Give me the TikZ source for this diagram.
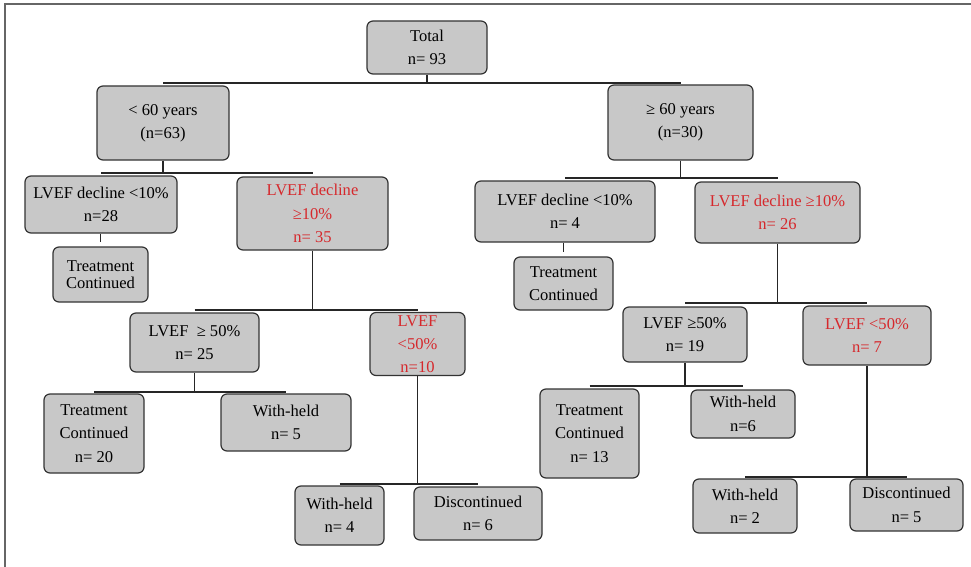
\documentclass[tikz,border=0pt]{standalone}
\usepackage{fontspec}
\setmainfont{Liberation Serif}
\definecolor{boxgray}{RGB}{200,200,200}
\definecolor{declred}{RGB}{214,40,44}

\begin{document}
\begin{tikzpicture}[x=0.75pt, y=-0.75pt,
		box/.style={draw=black!80, line width=0.9pt, rounded corners=4.5pt, fill=boxgray,
			align=center, inner sep=2pt, font=\fontsize{12.4}{17.5}\selectfont},
		dims/.style 2 args={minimum width=#1*0.75pt, minimum height=#2*0.75pt},
		redtext/.style={text=declred},
		link/.style={draw=black!85, line width=0.8pt}]
		\useasboundingbox (0,0) rectangle (971,567);
		
		% Page frame (top and left edges)
		\draw[black!60, line width=1.2pt] (5,567) -- (5,4) -- (971,4);
		
		% Root and age groups
		\node[box, dims={120}{53}] (total) at (427,47.5) {Total\\n= 93};
		\node[box, dims={132}{74}] (young) at (163,123) {< 60 years\\(n=63)};
		\node[box, dims={145}{75}] (old) at (680.5,122.5) {≥ 60 years\\(n=30)};
		
		% Under 60: LVEF decline
		\node[box, dims={152}{57}] (ylow) at (101,204.5) {LVEF decline <10\%\\n=28};
		\node[box, redtext, dims={151}{73}] (yhigh) at (312.5,213.5) {LVEF decline\\≥10\%\\n= 35};
		\node[box, dims={95}{55}, font=\fontsize{12.4}{13}\selectfont] (ytc) at (100.5,274.5) {Treatment\\Continued};
		\node[box, dims={129}{59}] (yge) at (194.5,342.5) {LVEF \ ≥ 50\%\\n= 25};
		\node[box, redtext, dims={95}{60}] (ylt) at (417.5,344) {LVEF\\<50\%\\n=10};
		\node[box, dims={100}{79}] (ygetc) at (94,433.5) {Treatment\\Continued\\n= 20};
		\node[box, dims={130}{57}] (ygewh) at (286,422.5) {With-held\\n= 5};
		\node[box, dims={89}{59}] (yltwh) at (339.5,515.5) {With-held\\n= 4};
		\node[box, dims={128}{53}] (yltdc) at (478,513.5) {Discontinued\\n= 6};
		
		% 60 and over: LVEF decline
		\node[box, dims={180}{61}] (olow) at (565,211.5) {LVEF decline <10\%\\n= 4};
		\node[box, redtext, dims={165}{61}] (ohigh) at (777.5,212.5) {LVEF decline ≥10\%\\n= 26};
		\node[box, dims={99}{53}] (otc) at (563.5,283.5) {Treatment\\Continued};
		\node[box, dims={124}{55}] (oge) at (685,334.5) {LVEF ≥50\%\\n= 19};
		\node[box, redtext, dims={128}{59}] (olt) at (867,335.5) {LVEF <50\%\\n= 7};
		\node[box, dims={99}{89}] (ogetc) at (589.5,433.5) {Treatment\\Continued\\n= 13};
		\node[box, dims={104}{48}] (ogewh) at (743,414) {With-held\\n=6};
		\node[box, dims={104}{54}] (oltwh) at (745,506) {With-held\\n= 2};
		\node[box, dims={113}{52}] (oltdc) at (906.5,505) {Discontinued\\n= 5};
		
		% Heights of the branch bars
		\coordinate (b0) at (0,83);
		\coordinate (b1) at (0,173);
		\coordinate (b2) at (0,310);
		\coordinate (b3) at (0,392);
		\coordinate (b4) at (0,484);
		\coordinate (c1) at (0,178);
		\coordinate (c2) at (0,303);
		\coordinate (c3) at (0,386);
		\coordinate (c4) at (0,477);
		
		% Branches
		\draw[link] (total.south) -- (total.south |- b0);
		\draw[link] (young.north |- b0) -- (old.north |- b0);
		\draw[link] (young.south) -- (young.south |- b1);
		\draw[link] (ylow.north |- b1) -- (yhigh.north |- b1);
		\draw[link] (ytc.north |- ylow.south) -- ([yshift=3pt]ytc.north);
		\draw[link] (yhigh.south) -- (yhigh.south |- b2);
		\draw[link] (yge.north |- b2) -- (ylt.north |- b2);
		\draw[link] (yge.south) -- (yge.south |- b3);
		\draw[link] (ygetc.north |- b3) -- (ygewh.north |- b3);
		\draw[link] (ylt.south) -- (ylt.south |- b4);
		\draw[link] (yltwh.north |- b4) -- (yltdc.north |- b4);
		
		\draw[link] (old.south) -- (old.south |- c1);
		\draw[link] (olow.north |- c1) -- (ohigh.north |- c1);
		\draw[link] (otc.north |- olow.south) -- ([yshift=3pt]otc.north);
		\draw[link] (ohigh.south) -- (ohigh.south |- c2);
		\draw[link] (oge.north |- c2) -- (olt.north |- c2);
		\draw[link] (oge.south) -- (oge.south |- c3);
		\draw[link] (ogetc.north |- c3) -- (ogewh.north |- c3);
		\draw[link] (olt.south) -- (olt.south |- c4);
		\draw[link] (oltwh.north |- c4) -- (oltdc.north |- c4);
	\end{tikzpicture}
\end{document}
